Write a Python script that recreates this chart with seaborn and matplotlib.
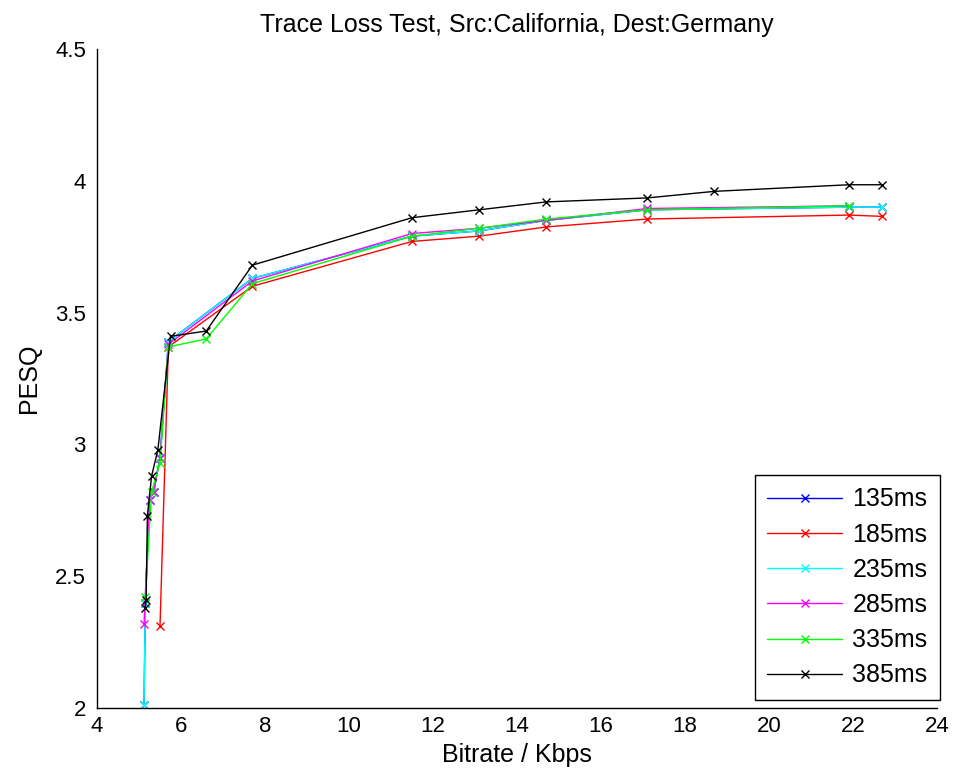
import matplotlib
matplotlib.use("Agg")
import matplotlib.pyplot as plt
import seaborn as sns
import pandas as pd

# ---- data ----
labels = ["135ms", "185ms", "235ms", "285ms", "335ms", "385ms"]
colors = ["#0000ff", "#ff0000", "#00ffff", "#ff00ff", "#00ff00", "#000000"]

x_135 = [5.12, 5.15, 5.25, 5.35, 5.5, 5.7, 7.7, 11.5, 13.1, 14.7, 17.1, 21.9, 22.7]
y_135 = [2.01, 2.40, 2.79, 2.82, 2.95, 3.39, 3.63, 3.79, 3.81, 3.85, 3.89, 3.90, 3.90]

x_185 = [5.5, 5.7, 7.7, 11.5, 13.1, 14.7, 17.1, 21.9, 22.7]
y_185 = [2.31, 3.37, 3.60, 3.77, 3.79, 3.825, 3.855, 3.87, 3.865]

x_235 = [5.12, 5.15, 5.25, 5.35, 5.5, 5.7, 7.7, 11.5, 13.1, 14.7, 17.1, 21.9, 22.7]
y_235 = [2.01, 2.40, 2.79, 2.82, 2.95, 3.39, 3.63, 3.79, 3.81, 3.85, 3.89, 3.90, 3.90]

x_285 = [5.12, 5.25, 5.35, 5.5, 5.7, 7.7, 11.5, 13.1, 14.7, 17.1, 21.9]
y_285 = [2.32, 2.79, 2.82, 2.95, 3.38, 3.62, 3.80, 3.82, 3.85, 3.895, 3.905]

x_335 = [5.15, 5.3, 5.5, 5.7, 6.6, 7.7, 11.5, 13.1, 14.7, 17.1, 21.9]
y_335 = [2.42, 2.82, 2.93, 3.37, 3.40, 3.61, 3.79, 3.82, 3.855, 3.89, 3.905]

x_385 = [5.15, 5.17, 5.2, 5.3, 5.45, 5.75, 6.6, 7.7, 11.5, 13.1, 14.7, 17.1, 18.7, 21.9, 22.7]
y_385 = [2.38, 2.41, 2.73, 2.88, 2.98, 3.41, 3.43, 3.68, 3.86, 3.89, 3.92, 3.935, 3.96, 3.985, 3.985]

x_ticks = [4, 6, 8, 10, 12, 14, 16, 18, 20, 22, 24]
y_ticks = [2, 2.5, 3, 3.5, 4, 4.5]
y_tick_labels = ["2", "2.5", "3", "3.5", "4", "4.5"]

series = [(x_135, y_135), (x_185, y_185), (x_235, y_235),
          (x_285, y_285), (x_335, y_335), (x_385, y_385)]

sns.set_style("white")
plt.rcParams["font.family"] = ["Liberation Sans", "DejaVu Sans"]
plt.rcParams["text.color"] = "#000000"
plt.rcParams["axes.labelcolor"] = "#000000"

fig = plt.figure(figsize=(9.56, 7.80), dpi=100)
ax = fig.add_axes([97/956, 1-708/780, (937-97)/956, (708-49)/780])

for (xs, ys), lab, col in zip(series, labels, colors):
    df = pd.DataFrame({"x": xs, "y": ys})
    sns.lineplot(data=df, x="x", y="y", ax=ax, color=col, marker="x",
                 markersize=6, markeredgewidth=1.0, markeredgecolor=col,
                 markerfacecolor=col, linewidth=1.0,
                 sort=False, estimator=None, label=lab)

ax.set_xlim(4, 24)
ax.set_ylim(2, 4.5)
ax.set_xticks(x_ticks)
ax.set_xticklabels([str(t) for t in x_ticks])
ax.set_yticks(y_ticks)
ax.set_yticklabels(y_tick_labels)
ax.tick_params(direction="in", length=8, width=1, labelsize=16, colors="#000000",
               pad=6)
ax.tick_params(axis="y", pad=8)
for s in ["top", "right"]:
    ax.spines[s].set_visible(False)
for s in ["left", "bottom"]:
    ax.spines[s].set_color("#000000")
    ax.spines[s].set_linewidth(1.0)

ax.set_xlabel("Bitrate / Kbps", fontsize=18, labelpad=4)
ax.set_ylabel("PESQ", fontsize=18, labelpad=10)
ax.set_title("Trace Loss Test, Src:California, Dest:Germany", fontsize=18, pad=12)

leg = ax.legend(loc="lower right", bbox_to_anchor=(940/956, 1-700/780),
                bbox_transform=fig.transFigure, fontsize=18, frameon=True,
                fancybox=False, borderaxespad=0, handlelength=3.0,
                handletextpad=0.4, labelspacing=0.45, borderpad=0.5)
leg.get_frame().set_edgecolor("#000000")
leg.get_frame().set_linewidth(1.0)
leg.get_frame().set_alpha(1)

fig.savefig("out.png", dpi=100, facecolor="white")
